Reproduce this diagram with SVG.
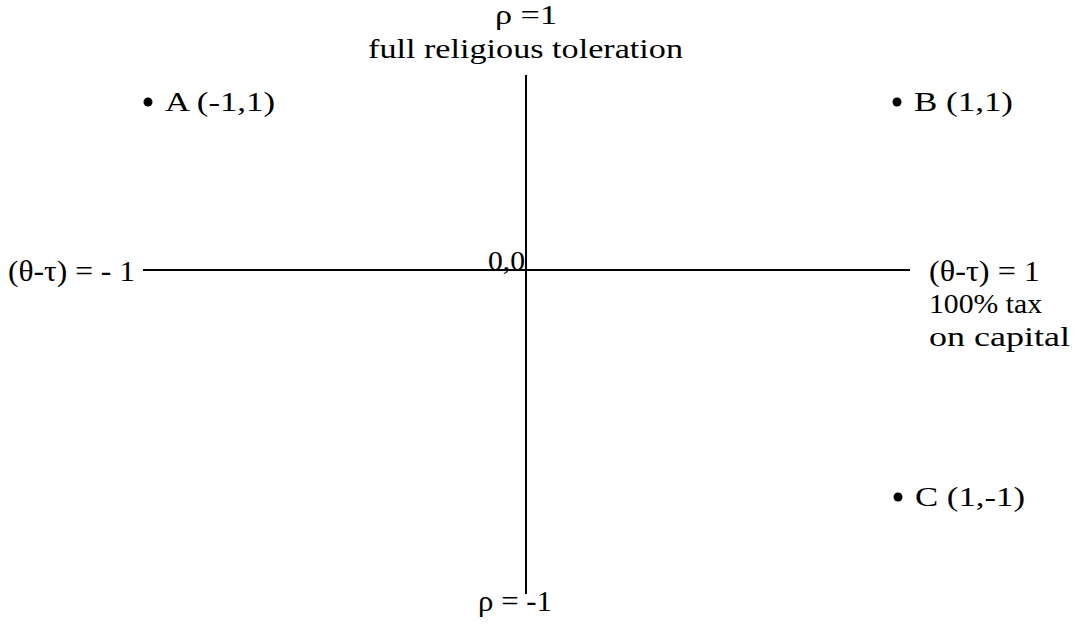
<svg xmlns="http://www.w3.org/2000/svg" width="1073" height="629" viewBox="0 0 1073 629">
<style>
.t{font-family:"Liberation Serif","DejaVu Serif",serif;font-size:28px;fill:#000}
.tm{font-family:"Liberation Serif","DejaVu Serif",serif;font-size:30px;fill:#000}
.ax{stroke:#000;stroke-width:2;fill:none}
</style>
<rect width="1073" height="629" fill="#fff"/>
<g id="connectors">
<line class="ax" x1="143" y1="270" x2="910" y2="270"/>
<line class="ax" x1="526" y1="75" x2="526" y2="594"/>
</g>
<g id="top-label">
<text class="t" x="495" y="24" textLength="62" lengthAdjust="spacingAndGlyphs">ρ =1</text>
<text class="t" x="368" y="58" textLength="315" lengthAdjust="spacingAndGlyphs">full religious toleration</text>
</g>
<g id="point-A">
<circle cx="148" cy="102" r="4.5"/>
<text class="t" x="165" y="111" textLength="110" lengthAdjust="spacingAndGlyphs">A  (-1,1)</text>
</g>
<g id="point-B">
<circle cx="897" cy="102" r="4.5"/>
<text class="t" x="914" y="111" textLength="99" lengthAdjust="spacingAndGlyphs">B  (1,1)</text>
</g>
<g id="point-C">
<circle cx="898" cy="497" r="4.5"/>
<text class="t" x="915" y="506" textLength="110" lengthAdjust="spacingAndGlyphs">C  (1,-1)</text>
</g>
<g id="left-label">
<text class="tm" x="8" y="281" textLength="127" lengthAdjust="spacingAndGlyphs">(θ-τ) = - 1</text>
</g>
<g id="origin">
<text class="t" x="488" y="270" textLength="37" lengthAdjust="spacingAndGlyphs">0,0</text>
</g>
<g id="right-label">
<text class="tm" x="929" y="281" textLength="111" lengthAdjust="spacingAndGlyphs">(θ-τ) = 1</text>
<text class="t" x="929" y="313" textLength="113" lengthAdjust="spacingAndGlyphs">100% tax</text>
<text class="t" x="929" y="346" textLength="141" lengthAdjust="spacingAndGlyphs">on capital</text>
</g>
<g id="bottom-label">
<text class="tm" x="478" y="611" textLength="74" lengthAdjust="spacingAndGlyphs">ρ = -1</text>
</g>
</svg>
